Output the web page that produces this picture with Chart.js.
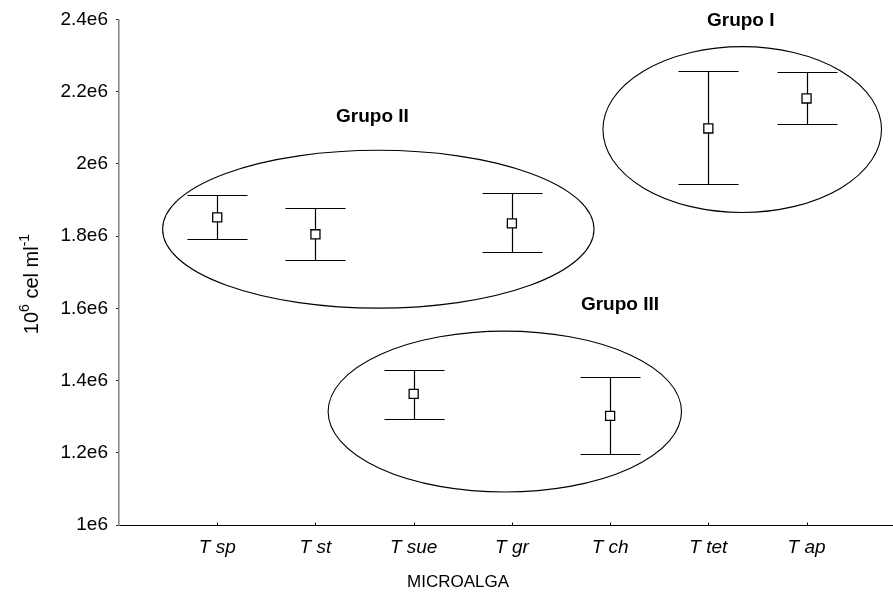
<!DOCTYPE html>
<html>
<head>
<meta charset="utf-8">
<script src="https://cdn.jsdelivr.net/npm/chart.js@4/dist/chart.umd.min.js"></script>
<style>
  html, body { margin: 0; padding: 0; background: #fff; }
  #wrap { width: 893px; height: 597px; }
</style>
</head>
<body>
<div id="wrap"><canvas id="chart" width="893" height="597"></canvas></div>
<script>
// Cell density per microalga: mean and error bar ends
const categories = ['T sp', 'T st', 'T sue', 'T gr', 'T ch', 'T tet', 'T ap'];
const means = [1852000, 1805000, 1363000, 1835000, 1302000, 2098000, 2181000];
const upper = [1913000, 1877000, 1430000, 1918000, 1409000, 2256000, 2253000];
const lower = [1791000, 1733000, 1294000, 1755000, 1196000, 1943000, 2109000];
const yTickValues = [1000000, 1200000, 1400000, 1600000, 1800000, 2000000, 2200000, 2400000];

// Group ellipses, in axis units (category index, cells/ml)
const groups = [
  { name: 'Grupo I',   cx: 6.345, cy: 2095000, rx: 1.418, ry: 229600, lx: 6.33, ly: 2397000 },
  { name: 'Grupo II',  cx: 2.640, cy: 1819000, rx: 2.196, ry: 218500, lx: 2.58, ly: 2131000 },
  { name: 'Grupo III', cx: 3.928, cy: 1314000, rx: 1.799, ry: 222700, lx: 5.10, ly: 1609000 }
];

const FONT = 'Liberation Sans, Arial, sans-serif';
const CAP = 30; // half width of the error bar caps, px

const errorBars = {
  id: 'errorBars',
  beforeDatasetsDraw(chart) {
    const { ctx, scales: { x, y } } = chart;
    ctx.save();
    ctx.strokeStyle = '#000';
    ctx.lineWidth = 1.2;
    categories.forEach((c, i) => {
      const px = Math.round(x.getPixelForValue(i + 1)) + 0.5;
      const top = Math.round(y.getPixelForValue(upper[i])) + 0.5;
      const bot = Math.round(y.getPixelForValue(lower[i])) + 0.5;
      ctx.beginPath();
      ctx.moveTo(px, top); ctx.lineTo(px, bot);
      ctx.moveTo(px - CAP, top); ctx.lineTo(px + CAP, top);
      ctx.moveTo(px - CAP, bot); ctx.lineTo(px + CAP, bot);
      ctx.stroke();
    });
    // small inward ticks on the x axis
    const base = Math.round(y.getPixelForValue(y.min)) + 0.5;
    ctx.lineWidth = 1;
    ctx.beginPath();
    categories.forEach((c, i) => {
      const px = Math.round(x.getPixelForValue(i + 1)) + 0.5;
      ctx.moveTo(px, base); ctx.lineTo(px, base - 3);
    });
    ctx.stroke();
    ctx.restore();
  }
};

const groupShapes = {
  id: 'groupShapes',
  afterDatasetsDraw(chart) {
    const { ctx, scales: { x, y } } = chart;
    ctx.save();
    ctx.strokeStyle = '#000';
    ctx.lineWidth = 1.1;
    groups.forEach(g => {
      const cx = x.getPixelForValue(g.cx);
      const cy = y.getPixelForValue(g.cy);
      const rx = x.getPixelForValue(g.cx + g.rx) - cx;
      const ry = cy - y.getPixelForValue(g.cy + g.ry);
      ctx.beginPath();
      ctx.ellipse(cx, cy, rx, ry, 0, 0, Math.PI * 2);
      ctx.stroke();
      ctx.fillStyle = '#000';
      ctx.font = 'bold 19px ' + FONT;
      ctx.textAlign = 'center';
      ctx.textBaseline = 'middle';
      ctx.fillText(g.name, x.getPixelForValue(g.lx), y.getPixelForValue(g.ly));
    });
    ctx.restore();
  }
};

// axis titles (y one needs real superscripts)
const axisTitles = {
  id: 'axisTitles',
  afterDraw(chart) {
    const { ctx } = chart;
    ctx.save();
    ctx.fillStyle = '#000';
    ctx.textBaseline = 'alphabetic';
    ctx.font = '17px ' + FONT;
    ctx.textAlign = 'center';
    ctx.fillText('MICROALGA', 458, 587);

    const parts = [['10', false], ['6', true], [' cel ml', false], ['-1', true]];
    const big = '20px ' + FONT, small = '14px ' + FONT;
    let total = 0;
    parts.forEach(p => { ctx.font = p[1] ? small : big; total += ctx.measureText(p[0]).width; });
    ctx.translate(38, 284);
    ctx.rotate(-Math.PI / 2);
    ctx.textAlign = 'left';
    let pos = -total / 2;
    parts.forEach(p => {
      ctx.font = p[1] ? small : big;
      ctx.fillText(p[0], pos, p[1] ? -9 : 0);
      pos += ctx.measureText(p[0]).width;
    });
    ctx.restore();
  }
};

new Chart(document.getElementById('chart'), {
  type: 'scatter',
  data: {
    datasets: [{
      data: categories.map((c, i) => ({ x: i + 1, y: means[i] })),
      pointStyle: 'rect',
      pointRadius: 6.4,
      pointBackgroundColor: '#fff',
      pointBorderColor: '#000',
      pointBorderWidth: 1.3
    }]
  },
  options: {
    responsive: false,
    animation: false,
    layout: { autoPadding: false, padding: { top: 19, right: 0, left: 0, bottom: 0 } },
    plugins: { legend: { display: false }, tooltip: { enabled: false } },
    scales: {
      x: {
        type: 'linear',
        min: 0,
        max: 7.88,
        afterFit(scale) { scale.height = 72; scale.paddingLeft = 0; scale.paddingRight = 0; },
        afterBuildTicks(scale) { scale.ticks = categories.map((c, i) => ({ value: i + 1 })); },
        grid: { display: false, drawTicks: false },
        border: { display: true, color: '#000', width: 1 },
        ticks: {
          color: '#000',
          padding: 11,
          maxRotation: 0,
          autoSkip: false,
          font: { family: FONT, size: 19, style: 'italic' },
          callback: v => categories[v - 1]
        },
        title: { display: false }
      },
      y: {
        min: 1000000,
        max: 2400000,
        afterFit(scale) { scale.width = 119; },
        afterBuildTicks(scale) { scale.ticks = yTickValues.map(v => ({ value: v })); },
        grid: { display: true, drawOnChartArea: false, drawTicks: true, tickLength: 3, color: '#222' },
        border: { display: true, color: '#888', width: 1.6 },
        ticks: {
          color: '#000',
          padding: 8,
          font: { family: FONT, size: 19 },
          callback: v => parseFloat((v / 1e6).toFixed(1)) + 'e6'
        },
        title: { display: false }
      }
    }
  },
  plugins: [errorBars, groupShapes, axisTitles]
});
</script>
</body>
</html>
